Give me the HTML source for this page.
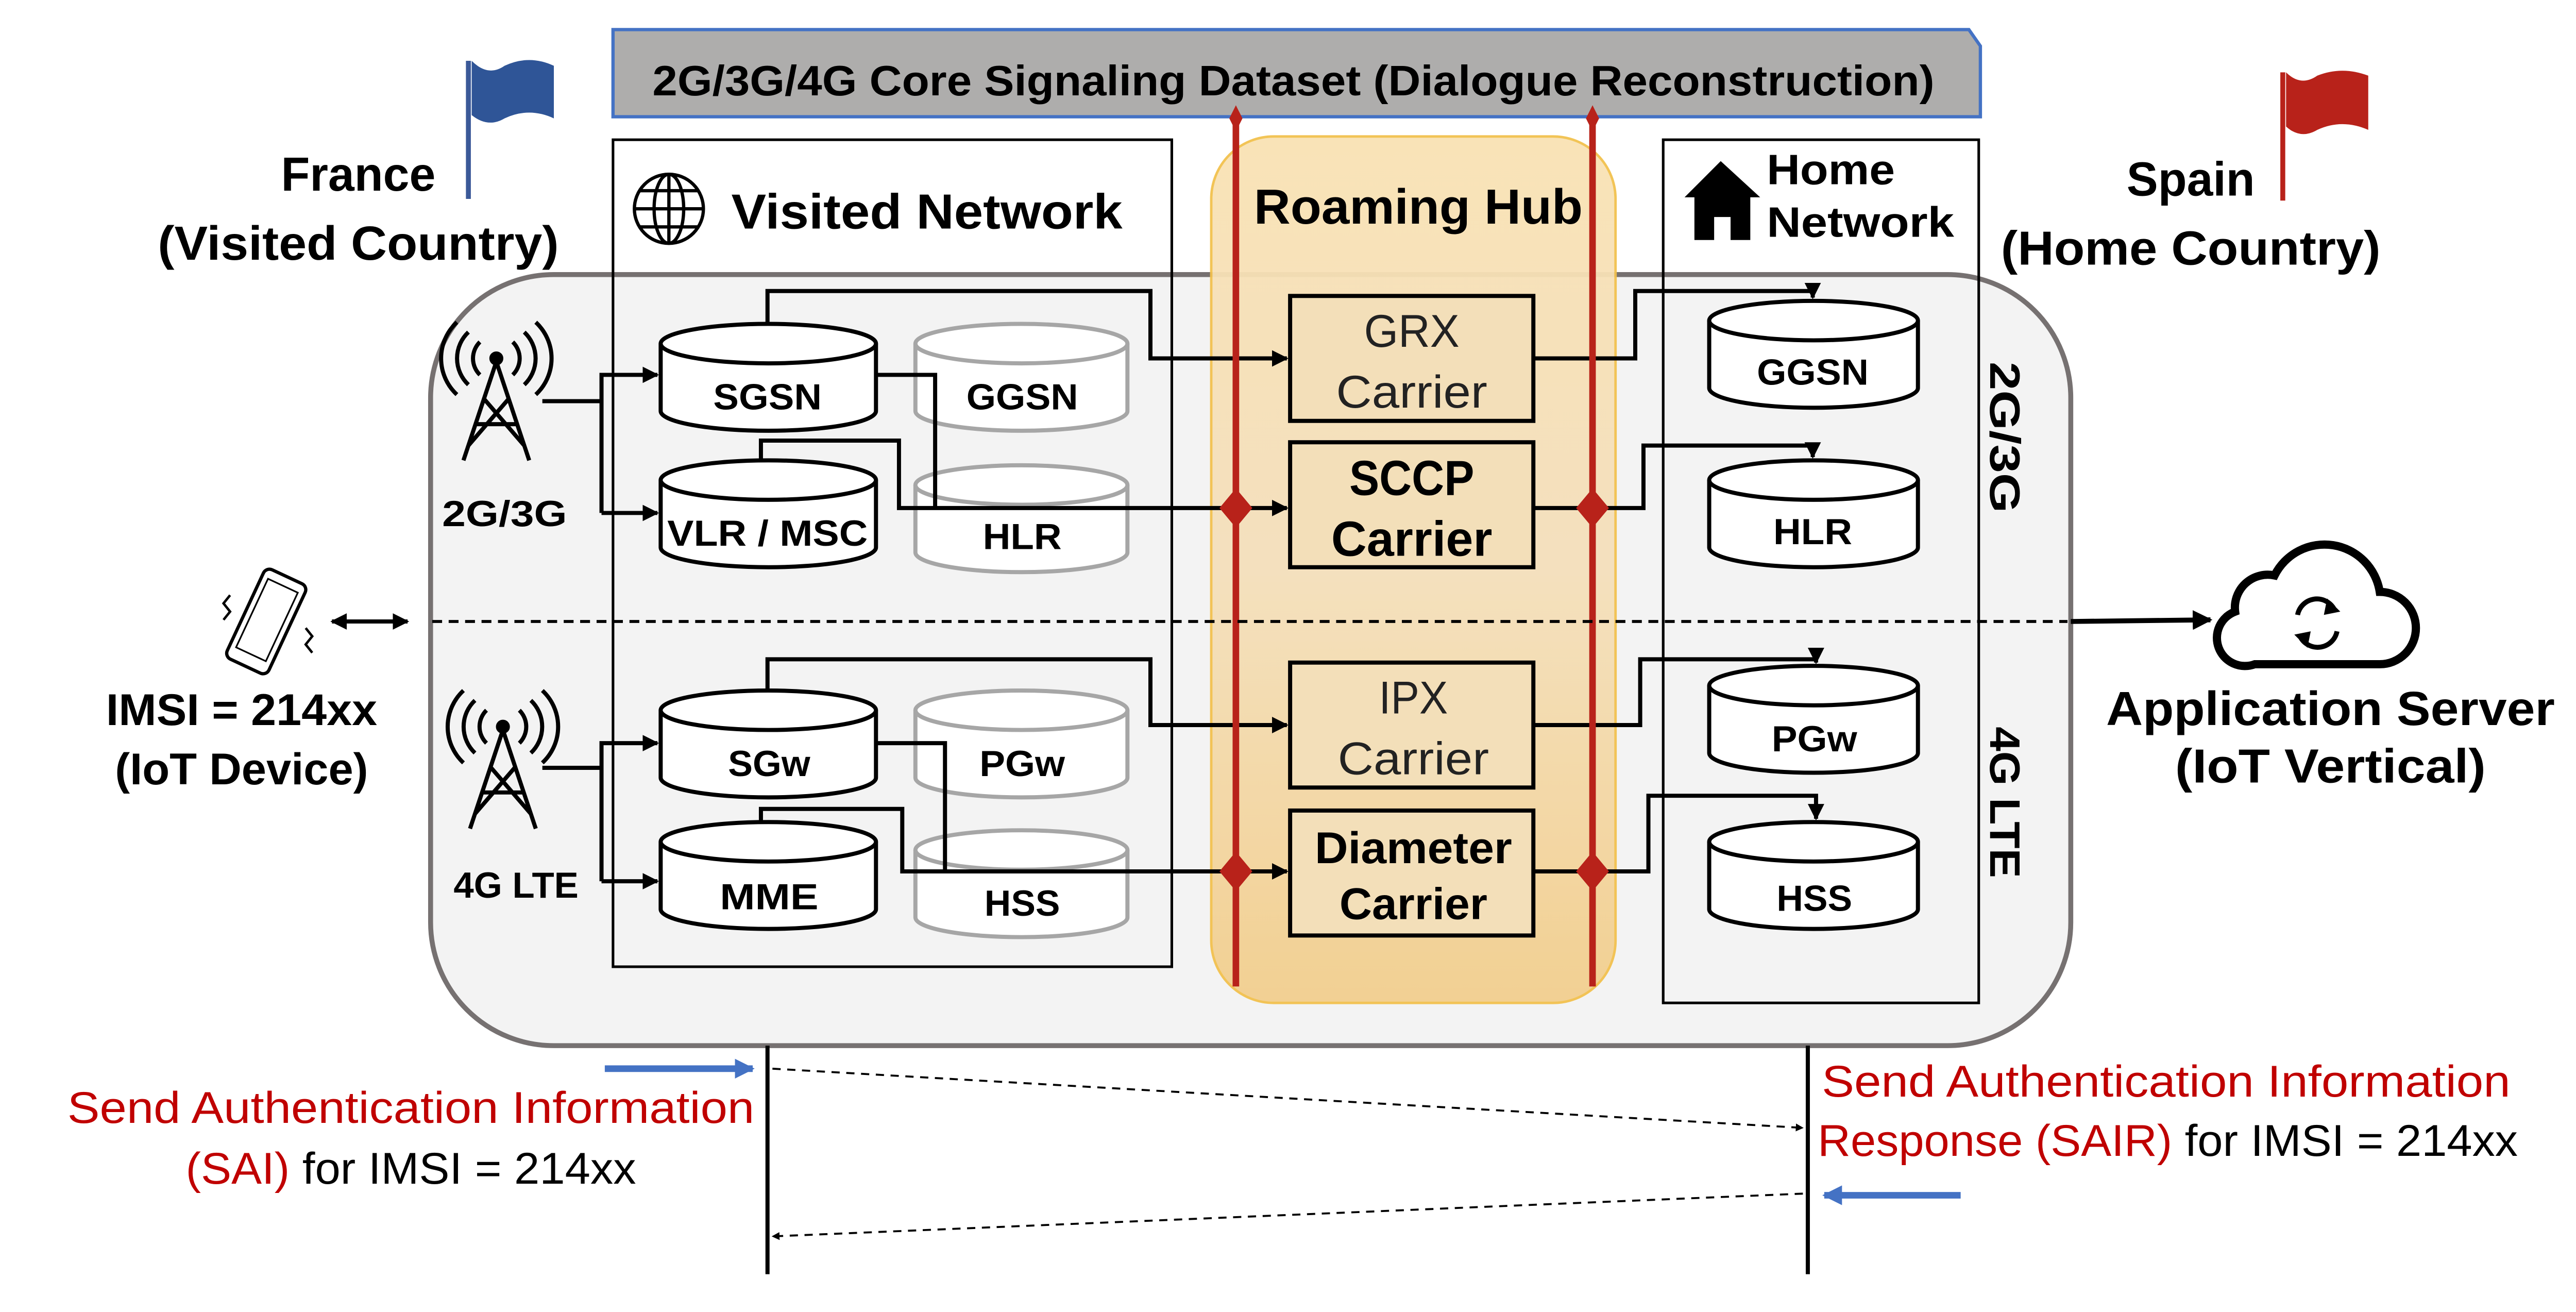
<!DOCTYPE html>
<html><head><meta charset="utf-8"><style>
html,body{margin:0;padding:0;background:#fff;overflow:hidden;}
svg{display:block;}
text{font-family:"Liberation Sans",sans-serif;}
.b{font-weight:bold;}
</style></head><body>
<svg width="5088" height="2546" viewBox="0 0 1595 798" preserveAspectRatio="none" xmlns="http://www.w3.org/2000/svg">
<defs>
<linearGradient id="hub" x1="0" y1="0" x2="0" y2="1">
<stop offset="0" stop-color="#f9e2b4"/><stop offset="0.5" stop-color="#f5e0bc"/><stop offset="1" stop-color="#f2cf8e"/>
</linearGradient>
<marker id="ar" viewBox="0 0 10 10" refX="9" refY="5" markerWidth="4" markerHeight="4" orient="auto-start-reverse"><path d="M0,0 L10,5 L0,10 z" fill="#000"/></marker>
<marker id="arb" viewBox="0 0 10 10" refX="9" refY="5" markerWidth="3" markerHeight="3" orient="auto"><path d="M0,0 L10,5 L0,10 z" fill="#4472c4"/></marker>
</defs>

<path d="M373,18 L1198,18 L1205,28 L1205,71 L373,71 Z" fill="#aeadac" stroke="#4472c4" stroke-width="2"/>
<text x="787" y="58" text-anchor="middle" class="b" font-size="26" textLength="780" lengthAdjust="spacingAndGlyphs">2G/3G/4G Core Signaling Dataset (Dialogue Reconstruction)</text>

<line x1="285" y1="37" x2="285" y2="121" stroke="#3b5998" stroke-width="3"/>
<path d="M287,37 Q297,47 307,40 Q322,33 337,40 L337,72 Q322,65 307,72 Q297,78 287,70 Z" fill="#2f5597"/>
<text x="218" y="116" text-anchor="middle" class="b" font-size="29" textLength="94" lengthAdjust="spacingAndGlyphs">France</text>
<text x="218" y="158" text-anchor="middle" class="b" font-size="29" textLength="244" lengthAdjust="spacingAndGlyphs">(Visited Country)</text>
<line x1="1389" y1="44" x2="1389" y2="122" stroke="#b8221a" stroke-width="3"/>
<path d="M1391,44 Q1400,53 1410,46 Q1425,40 1441,46 L1441,79 Q1425,72 1410,79 Q1400,85 1391,77 Z" fill="#b8221a"/>
<text x="1333" y="119" text-anchor="middle" class="b" font-size="29" textLength="78" lengthAdjust="spacingAndGlyphs">Spain</text>
<text x="1333" y="161" text-anchor="middle" class="b" font-size="29" textLength="231" lengthAdjust="spacingAndGlyphs">(Home Country)</text>

<rect x="262" y="167" width="998" height="469" rx="75" fill="#f3f3f3" stroke="#767171" stroke-width="3"/>

<rect x="737" y="83" width="246" height="527" rx="38" fill="url(#hub)" stroke="#f2c14e" stroke-width="1.5" opacity="0.95"/>
<text x="863" y="136" text-anchor="middle" class="b" font-size="30" textLength="200" lengthAdjust="spacingAndGlyphs">Roaming Hub</text>

<rect x="373" y="85" width="340" height="503" fill="none" stroke="#000" stroke-width="1.6"/>
<g stroke="#000" stroke-width="2" fill="none">
<circle cx="407" cy="127" r="21"/>
<ellipse cx="407" cy="127" rx="9" ry="21"/>
<line x1="386" y1="127" x2="428" y2="127"/>
<line x1="389" y1="116" x2="425" y2="116"/><line x1="389" y1="138" x2="425" y2="138"/>
<line x1="407" y1="106" x2="407" y2="148"/>
</g>
<text x="564" y="139" text-anchor="middle" class="b" font-size="30" textLength="238" lengthAdjust="spacingAndGlyphs">Visited Network</text>

<rect x="1012" y="85" width="192" height="525" fill="none" stroke="#000" stroke-width="1.6"/>
<path d="M1047,98 L1071,120 L1065,120 L1065,146 L1053,146 L1053,132 L1043,132 L1043,146 L1031,146 L1031,120 L1025,120 Z" fill="#000"/>
<text x="1114" y="112" text-anchor="middle" class="b" font-size="26" textLength="78" lengthAdjust="spacingAndGlyphs">Home</text>
<text x="1132" y="144" text-anchor="middle" class="b" font-size="26" textLength="114" lengthAdjust="spacingAndGlyphs">Network</text>

<text transform="translate(1211,266) rotate(90)" text-anchor="middle" class="b" font-size="26" textLength="92" lengthAdjust="spacingAndGlyphs">2G/3G</text>
<text transform="translate(1211,488) rotate(90)" text-anchor="middle" class="b" font-size="26" textLength="92" lengthAdjust="spacingAndGlyphs">4G LTE</text>

<g stroke-width="2.5">
<g stroke="#000" fill="#fff">
<path d="M402,209 L402,250 A65.5,12 0 0 0 533,250 L533,209"/><ellipse cx="467.5" cy="209" rx="65.5" ry="12"/>
<path d="M402,292 L402,333 A65.5,12 0 0 0 533,333 L533,292"/><ellipse cx="467.5" cy="292" rx="65.5" ry="12"/>
<path d="M402,432 L402,473 A65.5,12 0 0 0 533,473 L533,432"/><ellipse cx="467.5" cy="432" rx="65.5" ry="12"/>
<path d="M402,512 L402,553 A65.5,12 0 0 0 533,553 L533,512"/><ellipse cx="467.5" cy="512" rx="65.5" ry="12"/>
<path d="M1040,195 L1040,236 A63.5,12 0 0 0 1167,236 L1167,195"/><ellipse cx="1103.5" cy="195" rx="63.5" ry="12"/>
<path d="M1040,292 L1040,333 A63.5,12 0 0 0 1167,333 L1167,292"/><ellipse cx="1103.5" cy="292" rx="63.5" ry="12"/>
<path d="M1040,417 L1040,458 A63.5,12 0 0 0 1167,458 L1167,417"/><ellipse cx="1103.5" cy="417" rx="63.5" ry="12"/>
<path d="M1040,512 L1040,553 A63.5,12 0 0 0 1167,553 L1167,512"/><ellipse cx="1103.5" cy="512" rx="63.5" ry="12"/>
</g>
<g stroke="#a6a6a6" fill="#fff">
<path d="M557,209 L557,250 A64.5,12 0 0 0 686,250 L686,209"/><ellipse cx="621.5" cy="209" rx="64.5" ry="12"/>
<path d="M557,295 L557,336 A64.5,12 0 0 0 686,336 L686,295"/><ellipse cx="621.5" cy="295" rx="64.5" ry="12"/>
<path d="M557,432 L557,473 A64.5,12 0 0 0 686,473 L686,432"/><ellipse cx="621.5" cy="432" rx="64.5" ry="12"/>
<path d="M557,517 L557,558 A64.5,12 0 0 0 686,558 L686,517"/><ellipse cx="621.5" cy="517" rx="64.5" ry="12"/>
</g>
</g>
<g class="b" font-size="22" text-anchor="middle">
<text x="467" y="249" textLength="66" lengthAdjust="spacingAndGlyphs">SGSN</text>
<text x="622" y="249" textLength="68" lengthAdjust="spacingAndGlyphs">GGSN</text>
<text x="467" y="332" textLength="122" lengthAdjust="spacingAndGlyphs">VLR / MSC</text>
<text x="622" y="334" textLength="48" lengthAdjust="spacingAndGlyphs">HLR</text>
<text x="468" y="472" textLength="50" lengthAdjust="spacingAndGlyphs">SGw</text>
<text x="622" y="472" textLength="52" lengthAdjust="spacingAndGlyphs">PGw</text>
<text x="468" y="553" textLength="60" lengthAdjust="spacingAndGlyphs">MME</text>
<text x="622" y="557" textLength="46" lengthAdjust="spacingAndGlyphs">HSS</text>
<text x="1103" y="234" textLength="68" lengthAdjust="spacingAndGlyphs">GGSN</text>
<text x="1103" y="331" textLength="48" lengthAdjust="spacingAndGlyphs">HLR</text>
<text x="1104" y="457" textLength="52" lengthAdjust="spacingAndGlyphs">PGw</text>
<text x="1104" y="554" textLength="46" lengthAdjust="spacingAndGlyphs">HSS</text>
</g>

<g stroke="#000" stroke-width="2.5" fill="none">
<g transform="translate(302,228)">
<circle cx="0" cy="-10" r="3" fill="#000"/>
<path d="M0,-8 L-20,52 M0,-8 L20,52 M-13,30 L13,30 M-8,14 L17,43 M8,14 L-17,43"/>
<path d="M-10,-20 A14,14 0 0 0 -10,0 M10,-20 A14,14 0 0 1 10,0 M-17,-26 A22,22 0 0 0 -17,6 M17,-26 A22,22 0 0 1 17,6 M-24,-32 A30,30 0 0 0 -24,12 M24,-32 A30,30 0 0 1 24,12"/>
</g>
<g transform="translate(306,452)">
<circle cx="0" cy="-10" r="3" fill="#000"/>
<path d="M0,-8 L-20,52 M0,-8 L20,52 M-13,30 L13,30 M-8,14 L17,43 M8,14 L-17,43"/>
<path d="M-10,-20 A14,14 0 0 0 -10,0 M10,-20 A14,14 0 0 1 10,0 M-17,-26 A22,22 0 0 0 -17,6 M17,-26 A22,22 0 0 1 17,6 M-24,-32 A30,30 0 0 0 -24,12 M24,-32 A30,30 0 0 1 24,12"/>
</g>
</g>
<text x="307" y="320" text-anchor="middle" class="b" font-size="22" textLength="76" lengthAdjust="spacingAndGlyphs">2G/3G</text>
<text x="314" y="546" text-anchor="middle" class="b" font-size="22" textLength="76" lengthAdjust="spacingAndGlyphs">4G LTE</text>

<g stroke="#000" stroke-width="2.5" fill="none">
<path d="M330,244 L366,244"/>
<path d="M366,312 L366,228 L400,228" marker-end="url(#ar)"/>
<path d="M366,312 L400,312" marker-end="url(#ar)"/>
<path d="M467,197 L467,177 L700,177 L700,218 L783,218" marker-end="url(#ar)"/>
<path d="M533,228 L569,228 L569,309"/>
<path d="M463,280 L463,268 L547,268 L547,309 L783,309" marker-end="url(#ar)"/>
<path d="M933,218 L995,218 L995,177 L1103,177 L1103,181" marker-end="url(#ar)"/>
<path d="M933,309 L1000,309 L1000,271 L1103,271 L1103,278" marker-end="url(#ar)"/>
<path d="M330,467 L366,467"/>
<path d="M366,536 L366,452 L400,452" marker-end="url(#ar)"/>
<path d="M366,536 L400,536" marker-end="url(#ar)"/>
<path d="M467,420 L467,401 L700,401 L700,441 L783,441" marker-end="url(#ar)"/>
<path d="M533,452 L575,452 L575,530"/>
<path d="M463,500 L463,492 L549,492 L549,530 L783,530" marker-end="url(#ar)"/>
<path d="M933,441 L998,441 L998,401 L1105,401 L1105,403" marker-end="url(#ar)"/>
<path d="M933,530 L1003,530 L1003,484 L1105,484 L1105,498" marker-end="url(#ar)"/>
</g>

<g stroke="#000" stroke-width="2.5" fill="#f3dfb9">
<rect x="785" y="180" width="148" height="76"/>
<rect x="785" y="269" width="148" height="76"/>
<rect x="785" y="403" width="148" height="76"/>
<rect x="785" y="493" width="148" height="76"/>
</g>
<g text-anchor="middle">
<text x="859" y="211" font-size="28" fill="#222" textLength="58" lengthAdjust="spacingAndGlyphs">GRX</text>
<text x="859" y="248" font-size="28" fill="#222" textLength="92" lengthAdjust="spacingAndGlyphs">Carrier</text>
<text x="859" y="301" font-size="30" class="b" textLength="76" lengthAdjust="spacingAndGlyphs">SCCP</text>
<text x="859" y="338" font-size="30" class="b" textLength="98" lengthAdjust="spacingAndGlyphs">Carrier</text>
<text x="860" y="434" font-size="28" fill="#222" textLength="42" lengthAdjust="spacingAndGlyphs">IPX</text>
<text x="860" y="471" font-size="28" fill="#222" textLength="92" lengthAdjust="spacingAndGlyphs">Carrier</text>
<text x="860" y="525" font-size="27" class="b" textLength="120" lengthAdjust="spacingAndGlyphs">Diameter</text>
<text x="860" y="559" font-size="27" class="b" textLength="90" lengthAdjust="spacingAndGlyphs">Carrier</text>
</g>

<g fill="#b8221a" stroke="none">
<rect x="750" y="72" width="4" height="528"/>
<rect x="967" y="72" width="4" height="528"/>
<path d="M752,64 L756,72 L752,80 L748,72 Z"/>
<path d="M969,64 L973,72 L969,80 L965,72 Z"/>
<path d="M752,297 L762,309 L752,321 L742,309 Z"/>
<path d="M969,297 L979,309 L969,321 L959,309 Z"/>
<path d="M752,518 L762,530 L752,542 L742,530 Z"/>
<path d="M969,518 L979,530 L969,542 L959,530 Z"/>
</g>

<line x1="263" y1="378" x2="1258" y2="378" stroke="#000" stroke-width="1.8" stroke-dasharray="6,4"/>
<line x1="1260" y1="378" x2="1345" y2="377" stroke="#000" stroke-width="3" marker-end="url(#ar)"/>

<g transform="translate(162,378) rotate(25)" stroke="#000" stroke-width="2" fill="none">
<rect x="-14" y="-30" width="28" height="60" rx="4"/>
<rect x="-10" y="-24" width="20" height="46" stroke-width="1"/>
</g>
<path d="M140,362 l-4,5 4,5 -4,5 M186,382 l4,5 -4,5 4,5" stroke="#000" stroke-width="1.5" fill="none"/>
<line x1="202" y1="378" x2="248" y2="378" stroke="#000" stroke-width="2.5" marker-start="url(#ar)" marker-end="url(#ar)"/>
<text x="147" y="441" text-anchor="middle" class="b" font-size="27" textLength="165" lengthAdjust="spacingAndGlyphs">IMSI = 214xx</text>
<text x="147" y="477" text-anchor="middle" class="b" font-size="27" textLength="154" lengthAdjust="spacingAndGlyphs">(IoT Device)</text>

<path d="M1372,404 L1448,404 A22,22 0 0 0 1448,360 A34,34 0 0 0 1384,350 A20,20 0 0 0 1360,372 A17,17 0 0 0 1372,404 Z" fill="#fff" stroke="#000" stroke-width="5"/>
<g stroke="#000" stroke-width="3" fill="none">
<path d="M1398,374 A12,12 0 0 1 1420,370"/><path d="M1422,384 A12,12 0 0 1 1400,388"/>
</g>
<path d="M1416,364 L1424,372 L1414,374 Z M1404,394 L1396,386 L1406,384 Z" fill="#000"/>
<text x="1418" y="441" text-anchor="middle" class="b" font-size="29" textLength="273" lengthAdjust="spacingAndGlyphs">Application Server</text>
<text x="1418" y="476" text-anchor="middle" class="b" font-size="29" textLength="189" lengthAdjust="spacingAndGlyphs">(IoT Vertical)</text>

<line x1="467" y1="636" x2="467" y2="775" stroke="#000" stroke-width="2.5"/>
<line x1="1100" y1="636" x2="1100" y2="775" stroke="#000" stroke-width="2.5"/>
<line x1="470" y1="650" x2="1097" y2="686" stroke="#000" stroke-width="1.2" stroke-dasharray="5,4" marker-end="url(#ar)"/>
<line x1="1097" y1="726" x2="470" y2="752" stroke="#000" stroke-width="1.2" stroke-dasharray="5,4" marker-end="url(#ar)"/>
<line x1="368" y1="650" x2="458" y2="650" stroke="#4472c4" stroke-width="4" marker-end="url(#arb)"/>
<line x1="1193" y1="727" x2="1110" y2="727" stroke="#4472c4" stroke-width="4" marker-end="url(#arb)"/>
<g font-size="27">
<text x="250" y="683" text-anchor="middle" fill="#c00000" textLength="418" lengthAdjust="spacingAndGlyphs">Send Authentication Information</text>
<text x="113" y="720" textLength="274" lengthAdjust="spacingAndGlyphs"><tspan fill="#c00000">(SAI)</tspan> for IMSI = 214xx</text>
<text x="1318" y="667" text-anchor="middle" fill="#c00000" textLength="419" lengthAdjust="spacingAndGlyphs">Send Authentication Information</text>
<text x="1106" y="703" textLength="426" lengthAdjust="spacingAndGlyphs"><tspan fill="#c00000">Response (SAIR)</tspan>  for IMSI = 214xx</text>
</g>
</svg>
</body></html>
